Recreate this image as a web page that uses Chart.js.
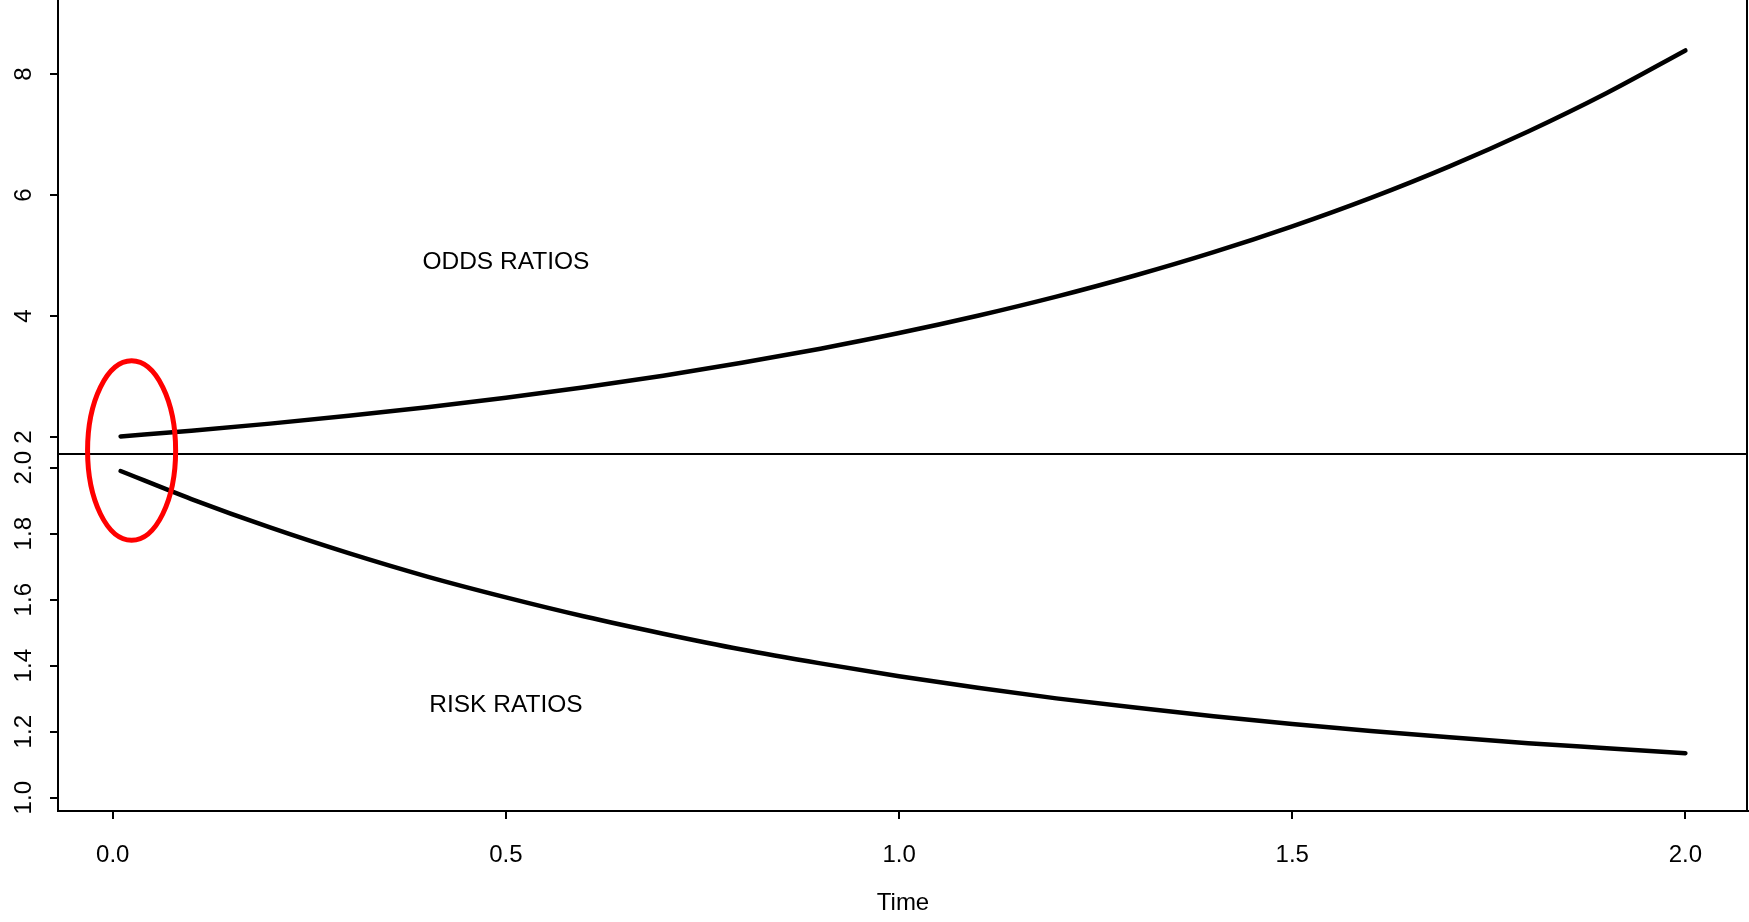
<!DOCTYPE html>
<html>
<head>
<meta charset="utf-8">
<title>Odds ratios and risk ratios over time</title>
<script src="https://cdn.jsdelivr.net/npm/chart.js@4.4.1/dist/chart.umd.min.js"></script>
<style>
  html, body { margin: 0; padding: 0; background: #fff; }
  canvas { display: block; }
</style>
</head>
<body>
<canvas id="ratioChart" width="1749" height="922"></canvas>
<script>
// ==========================
// Data
// ==========================
const times = [0.01, 0.1, 0.2, 0.3, 0.4, 0.5, 0.6, 0.7, 0.8, 0.9, 1.0,
               1.1, 1.2, 1.3, 1.4, 1.5, 1.6, 1.7, 1.8, 1.9, 2.0];
const oddsRatios = [2.010, 2.105, 2.221, 2.350, 2.492, 2.649, 2.822, 3.014, 3.226, 3.460, 3.718,
                    4.004, 4.320, 4.669, 5.055, 5.482, 5.953, 6.474, 7.050, 7.686, 8.389];
const riskRatios = [1.990, 1.905, 1.819, 1.741, 1.670, 1.607, 1.549, 1.497, 1.449, 1.407, 1.368,
                    1.333, 1.301, 1.273, 1.247, 1.223, 1.202, 1.183, 1.165, 1.150, 1.135];

const timeTicks = [0, 0.5, 1.0, 1.5, 2.0];
const oddsTicks = [2, 4, 6, 8];
const riskTicks = [1.0, 1.2, 1.4, 1.6, 1.8, 2.0];

const oddsLabel = { text: "ODDS RATIOS", x: 0.5, y: 4.89 };
const riskLabel = { text: "RISK RATIOS", x: 0.5, y: 1.281 };

// red ring around where both curves start
const startRing = { xMin: -0.032, xMax: 0.080, oddsTop: 3.26, riskBottom: 1.78 };

const FONT = '"Liberation Sans", Arial, Helvetica, sans-serif';
Chart.defaults.font.family = FONT;
Chart.defaults.font.size = 24;
Chart.defaults.color = "#000";

function setTicks(values) {
  return (scale) => {
    scale.ticks = values.map((v) => ({ value: v }));
  };
}

function fixWidth(w) {
  return (scale) => {
    scale.width = w;
    scale.paddingTop = 0;
    scale.paddingBottom = 0;
  };
}

function yAxis(min, max, ticks, pad, weight, share, fmt) {
  return {
    type: "linear",
    position: "left",
    stack: "panels",
    stackWeight: share,
    weight: weight,
    min: min,
    max: max,
    afterBuildTicks: setTicks(ticks),
    afterFit: fixWidth(58),
    border: { display: true, color: "#000", width: 2 },
    grid: { drawOnChartArea: false, drawTicks: true, tickLength: 8, color: "#000", lineWidth: 2 },
    ticks: {
      autoSkip: false,
      minRotation: 90,
      maxRotation: 90,
      crossAlign: "center",
      padding: pad,
      callback: fmt,
    },
  };
}

// ==========================
// Frame, divider, text labels and the ring
// ==========================
const overlay = {
  id: "overlay",
  afterDraw(chart) {
    const { ctx, chartArea } = chart;
    const x = chart.scales.x;
    const yo = chart.scales.y;
    const yr = chart.scales.y2;

    ctx.save();
    ctx.strokeStyle = "#000";
    ctx.lineWidth = 2;
    ctx.beginPath();
    // right side of the box
    ctx.moveTo(chartArea.right - 1, chartArea.top);
    ctx.lineTo(chartArea.right - 1, chartArea.bottom);
    // divider between the two panels
    ctx.moveTo(chartArea.left, yo.bottom);
    ctx.lineTo(chartArea.right, yo.bottom);
    ctx.stroke();

    ctx.fillStyle = "#000";
    ctx.font = "24.5px " + FONT;
    ctx.textAlign = "center";
    ctx.textBaseline = "middle";
    ctx.fillText(oddsLabel.text, x.getPixelForValue(oddsLabel.x), yo.getPixelForValue(oddsLabel.y));
    ctx.fillText(riskLabel.text, x.getPixelForValue(riskLabel.x), yr.getPixelForValue(riskLabel.y));

    const left = x.getPixelForValue(startRing.xMin);
    const right = x.getPixelForValue(startRing.xMax);
    const top = yo.getPixelForValue(startRing.oddsTop);
    const bottom = yr.getPixelForValue(startRing.riskBottom);
    ctx.strokeStyle = "#ff0000";
    ctx.lineWidth = 5;
    ctx.beginPath();
    ctx.ellipse((left + right) / 2, (top + bottom) / 2, (right - left) / 2, (bottom - top) / 2, 0, 0, Math.PI * 2);
    ctx.stroke();
    ctx.restore();
  },
};

const lineStyle = {
  borderColor: "#000",
  borderWidth: 4.5,
  borderCapStyle: "round",
  borderJoinStyle: "round",
  pointRadius: 0,
  fill: false,
  cubicInterpolationMode: "monotone",
};

new Chart(document.getElementById("ratioChart").getContext("2d"), {
  type: "line",
  data: {
    datasets: [
      { label: "Odds ratios", data: times.map((t, i) => ({ x: t, y: oddsRatios[i] })), yAxisID: "y", ...lineStyle },
      { label: "Risk ratios", data: times.map((t, i) => ({ x: t, y: riskRatios[i] })), yAxisID: "y2", ...lineStyle },
    ],
  },
  options: {
    responsive: false,
    devicePixelRatio: 1,
    animation: false,
    layout: { padding: { top: 0, left: 0, right: 1, bottom: 0 } },
    plugins: { legend: { display: false }, tooltip: { enabled: false } },
    scales: {
      x: {
        type: "linear",
        position: "bottom",
        min: -0.0696,
        max: 2.0796,
        afterBuildTicks: setTicks(timeTicks),
        afterFit: (scale) => {
          scale.height = 111;
          scale.paddingLeft = 0;
          scale.paddingRight = 0;
        },
        border: { display: true, color: "#000", width: 2 },
        grid: { drawOnChartArea: false, drawTicks: true, tickLength: 8, color: "#000", lineWidth: 2 },
        ticks: { autoSkip: false, maxRotation: 0, padding: 22, callback: (v) => Number(v).toFixed(1) },
        title: { display: true, text: "Time", padding: { top: 0, bottom: 4 } },
      },
      y: yAxis(1.719, 9.223, oddsTicks, 19, 1, 454, (v) => String(v)),
      y2: yAxis(0.9597, 2.0415, riskTicks, 9, 0, 357, (v) => Number(v).toFixed(1)),
    },
  },
  plugins: [overlay],
});
</script>
</body>
</html>
